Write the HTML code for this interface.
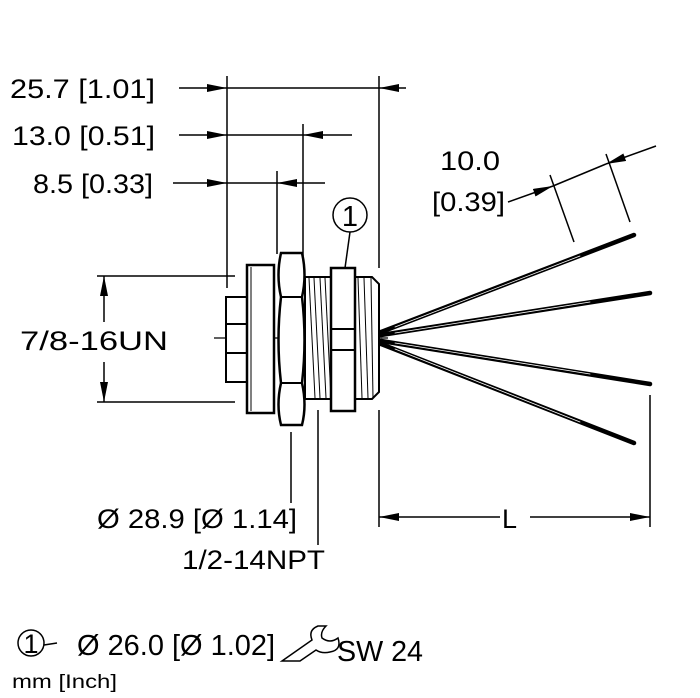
<!DOCTYPE html>
<html><head><meta charset="utf-8"><style>
html,body{margin:0;padding:0;background:#fff;width:700px;height:698px;overflow:hidden}
text{font-family:"Liberation Sans",sans-serif;fill:#000}
</style></head><body>
<svg width="700" height="698" viewBox="0 0 700 698" xmlns="http://www.w3.org/2000/svg">
<defs>
<marker id="a" viewBox="0 0 20 8" refX="20" refY="4" markerWidth="20" markerHeight="8" markerUnits="userSpaceOnUse" orient="auto"><path d="M0,0L20,4L0,8z" fill="#000"/></marker>
</defs>
<g stroke="#000" stroke-width="1.5" fill="none">
<line x1="227" y1="76" x2="227" y2="288"/>
<line x1="379" y1="76" x2="379" y2="268"/>
<line x1="303" y1="124" x2="303" y2="256"/>
<line x1="277" y1="171" x2="277" y2="254"/>
<line x1="179" y1="88" x2="227" y2="88" marker-end="url(#a)"/>
<line x1="227" y1="88" x2="379" y2="88"/>
<line x1="406" y1="88" x2="379" y2="88" marker-end="url(#a)"/>
<line x1="179" y1="135" x2="227" y2="135" marker-end="url(#a)"/>
<line x1="227" y1="135" x2="303" y2="135"/>
<line x1="352" y1="135" x2="303" y2="135" marker-end="url(#a)"/>
<line x1="173" y1="183" x2="227" y2="183" marker-end="url(#a)"/>
<line x1="227" y1="183" x2="277" y2="183"/>
<line x1="325" y1="183" x2="277" y2="183" marker-end="url(#a)"/>
<line x1="97" y1="276" x2="235" y2="276"/>
<line x1="97" y1="402" x2="235" y2="402"/>
<line x1="104" y1="322" x2="104" y2="276" marker-end="url(#a)"/>
<line x1="104" y1="362" x2="104" y2="402" marker-end="url(#a)"/>
<line x1="291" y1="432" x2="291" y2="503"/>
<line x1="318" y1="410" x2="318" y2="545"/>
<line x1="379" y1="410" x2="379" y2="527"/>
<line x1="650" y1="395" x2="650" y2="527"/>
<line x1="500" y1="517" x2="379" y2="517" marker-end="url(#a)"/>
<line x1="530" y1="517" x2="650" y2="517" marker-end="url(#a)"/>
<line x1="550" y1="175" x2="574" y2="242"/>
<line x1="606" y1="154" x2="630" y2="222"/>
<line x1="508" y1="202" x2="553" y2="186" marker-end="url(#a)"/>
<line x1="553" y1="186" x2="606" y2="164"/>
<line x1="656" y1="146" x2="606" y2="164" marker-end="url(#a)"/>
<line x1="214" y1="338" x2="300" y2="338" stroke-width="1.2"/>
<line x1="305" y1="338" x2="388" y2="338" stroke-width="1.2"/>
</g>
<g stroke="#000" stroke-width="2" fill="#fff">
<rect x="226" y="297" width="21" height="85"/>
<line x1="226" y1="324" x2="247" y2="324"/>
<line x1="226" y1="353" x2="247" y2="353"/>
<rect x="247" y="265" width="27" height="148" stroke-width="2.5"/>
<line x1="251" y1="267" x2="251" y2="411" stroke-width="1"/>
<path d="M305,277 L372,277 L379,284 L379,392 L372,399 L305,399 Z"/>
<path d="M281,253 L302,253 Q307,275 302,297 Q307,340 302,383 Q307,405 302,425 L281,425 Q276,405 281,383 Q276,340 281,297 Q276,275 281,253 Z" stroke-width="2.5"/>
<line x1="280" y1="297" x2="303" y2="297"/>
<line x1="280" y1="383" x2="303" y2="383"/>
<rect x="331" y="268" width="24" height="143" stroke-width="2.5"/>
<line x1="331" y1="329" x2="355" y2="329"/>
<line x1="331" y1="350" x2="355" y2="350"/>
</g>
<g stroke="#000" stroke-width="1" fill="none">
<line x1="309" y1="278" x2="315" y2="398"/><line x1="314" y1="278" x2="320" y2="398"/>
<line x1="320" y1="278" x2="326" y2="398"/><line x1="325" y1="278" x2="331" y2="398"/>
<line x1="358" y1="278" x2="362" y2="398"/><line x1="364" y1="278" x2="368" y2="398"/>
<line x1="371" y1="278" x2="373" y2="398"/>
<line x1="350" y1="232" x2="345" y2="268" stroke-width="1.5"/>
<circle cx="350" cy="215" r="17" stroke-width="1.5"/>
</g>
<g stroke-linecap="round">
<g stroke="#000" stroke-width="4.5">
<line x1="381" y1="332" x2="634" y2="235"/>
<line x1="381" y1="335" x2="650" y2="293"/>
<line x1="381" y1="341" x2="650" y2="384"/>
<line x1="381" y1="344" x2="634" y2="443"/>
</g>
<g stroke="#fff" stroke-width="0.8">
<line x1="395" y1="327" x2="580" y2="256"/>
<line x1="395" y1="333" x2="590" y2="302"/>
<line x1="395" y1="343" x2="590" y2="374"/>
<line x1="395" y1="349" x2="580" y2="422"/>
</g>
</g>
<text x="10" y="98" font-size="27" textLength="145" lengthAdjust="spacingAndGlyphs">25.7 [1.01]</text>
<text x="12" y="145" font-size="27" textLength="143" lengthAdjust="spacingAndGlyphs">13.0 [0.51]</text>
<text x="33" y="193" font-size="27" textLength="120" lengthAdjust="spacingAndGlyphs">8.5 [0.33]</text>
<text x="350" y="226" font-size="29" text-anchor="middle">1</text>
<text x="440" y="170" font-size="27" textLength="60" lengthAdjust="spacingAndGlyphs">10.0</text>
<text x="432" y="211" font-size="27" textLength="73" lengthAdjust="spacingAndGlyphs">[0.39]</text>
<text x="20" y="350" font-size="27" textLength="148" lengthAdjust="spacingAndGlyphs">7/8-16UN</text>
<text x="97" y="528" font-size="27" textLength="200" lengthAdjust="spacingAndGlyphs">Ø 28.9 [Ø 1.14]</text>
<text x="182" y="569" font-size="27" textLength="143" lengthAdjust="spacingAndGlyphs">1/2-14NPT</text>
<text x="502" y="528" font-size="27">L</text>
<circle cx="31" cy="643" r="13" fill="none" stroke="#000" stroke-width="1.5"/>
<text x="31" y="653" font-size="27" text-anchor="middle">1</text>
<line x1="44" y1="645" x2="57" y2="643" stroke="#000" stroke-width="1.5"/>
<text x="77" y="655" font-size="29" textLength="198" lengthAdjust="spacingAndGlyphs">Ø 26.0 [Ø 1.02]</text>
<path d="M282,661 L312,640 Q308,630 318,626 L326,626 Q320,632 322,638 Q330,644 338,638 Q342,650 330,652 Q322,654 316,650 L300,661 Z" fill="none" stroke="#000" stroke-width="1.5"/>
<text x="337" y="661" font-size="29" textLength="86" lengthAdjust="spacingAndGlyphs">SW 24</text>
<text x="12" y="688" font-size="19" textLength="105" lengthAdjust="spacingAndGlyphs">mm [Inch]</text>
</svg>
</body></html>
